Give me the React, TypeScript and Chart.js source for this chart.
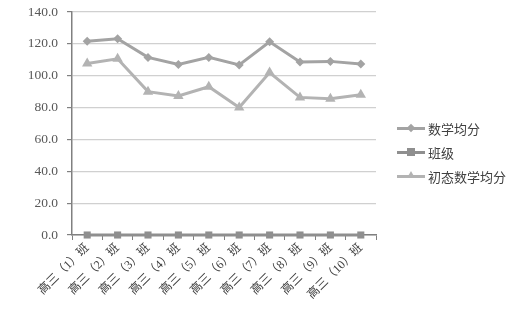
import React, { useEffect, useRef } from "react";
import { Chart, registerables } from "chart.js";
Chart.register(...registerables);

const categories = ["高三（1）班", "高三（2）班", "高三（3）班", "高三（4）班", "高三（5）班", "高三（6）班", "高三（7）班", "高三（8）班", "高三（9）班", "高三（10）班"];
const mathAvg = [121.6, 123.2, 111.5, 107.0, 111.5, 106.8, 121.3, 108.6, 109.0, 107.4];
const classNo = [0, 0, 0, 0, 0, 0, 0, 0, 0, 0];
const initialAvg = [107.7, 110.6, 90.0, 87.3, 93.1, 80.0, 102.0, 86.4, 85.6, 88.0];
const seriesNames = ["数学均分", "班级", "初态数学均分"];
const colors = ["#a3a3a3", "#8f8f8f", "#b3b3b3"];

const FONT = "'Liberation Serif', 'Noto Sans CJK SC', serif";

export default function App() {
  const ref = useRef<HTMLCanvasElement | null>(null);
  useEffect(() => {
    const ctx = ref.current!;
    const chart = new Chart(ctx, {
      type: "line",
      data: {
        labels: categories,
        datasets: [
          { label: seriesNames[0], data: mathAvg, borderColor: colors[0], backgroundColor: colors[0], borderWidth: 3, pointStyle: "rectRot", pointRadius: 4.5, pointBorderWidth: 0, clip: false },
          { label: seriesNames[1], data: classNo, borderColor: colors[1], backgroundColor: colors[1], borderWidth: 3, pointStyle: "rect", pointRadius: 5, pointBorderWidth: 0, clip: false },
          { label: seriesNames[2], data: initialAvg, borderColor: colors[2], backgroundColor: colors[2], borderWidth: 3, pointStyle: "triangle", pointRadius: 6, pointBorderWidth: 0, clip: false },
        ],
      },
      options: {
        animation: false,
        responsive: false,
        layout: { padding: { top: 12, right: 149, left: 0, bottom: 0 } },
        plugins: { legend: { display: false }, tooltip: { enabled: false } },
        scales: {
          x: {
            offset: true,
            grid: { drawOnChartArea: false, drawTicks: true, tickLength: 5, color: "#808080", offset: true },
            border: { color: "#808080", width: 1.5 },
            ticks: { font: { family: FONT, size: 12 }, color: "#404040", maxRotation: 45, minRotation: 45, autoSkip: false, padding: 1 },
            afterFit: (s: any) => { s.height = 89; s.paddingLeft = 0; s.paddingRight = 0; },
          },
          y: {
            min: 0,
            max: 140,
            ticks: { stepSize: 20, font: { family: FONT, size: 13.5 }, color: "#595959", callback: (v: any) => Number(v).toFixed(1), padding: 9 },
            grid: { color: "#d0d0d0", lineWidth: 1.2, tickLength: 5, tickColor: "#808080" },
            border: { color: "#808080", width: 1.5 },
            afterFit: (s: any) => { s.width = 72; s.paddingTop = 0; s.paddingBottom = 0; },
          },
        },
      },
    });
    return () => chart.destroy();
  }, []);

  const marker = (i: number) => {
    if (i === 0) return <div style={{ position: "absolute", left: 11, top: -2, width: 6, height: 6, background: colors[0], transform: "rotate(45deg)" }} />;
    if (i === 1) return <div style={{ position: "absolute", left: 10, top: -3, width: 8, height: 8, background: colors[1] }} />;
    return <div style={{ position: "absolute", left: 10, top: -4, width: 0, height: 0, borderLeft: "4px solid transparent", borderRight: "4px solid transparent", borderBottom: `7px solid ${colors[2]}` }} />;
  };

  return (
    <div style={{ position: "fixed", left: 0, top: 0, width: 525, height: 324, background: "#fff" }}>
      <canvas ref={ref} width={525} height={324} style={{ position: "absolute", left: 0, top: 0 }} />
      {seriesNames.map((n, i) => (
        <div key={n} style={{ position: "absolute", left: 397, top: 119 + i * 24, height: 18, display: "flex", alignItems: "center", fontFamily: FONT, fontSize: 13, color: "#404040", whiteSpace: "nowrap" }}>
          <div style={{ position: "relative", width: 28, height: 3, background: colors[i], marginRight: 3 }}>{marker(i)}</div>
          {n}
        </div>
      ))}
    </div>
  );
}
